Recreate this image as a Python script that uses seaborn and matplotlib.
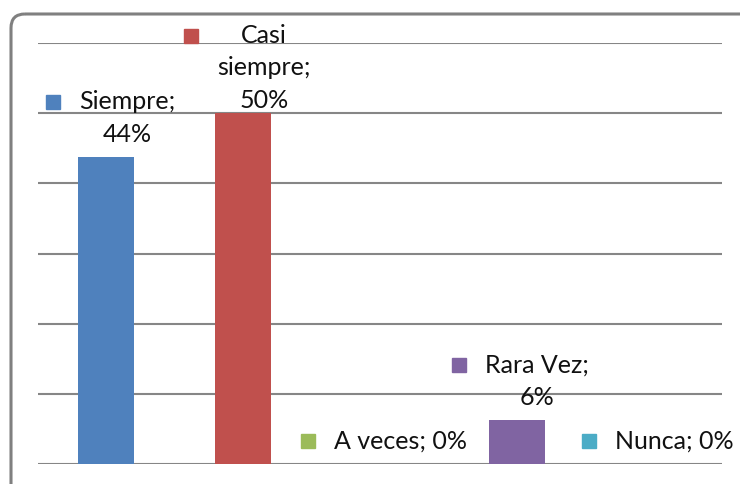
import matplotlib
matplotlib.use('Agg')
import matplotlib.pyplot as plt
from matplotlib.patches import FancyBboxPatch
import pandas as pd
import seaborn as sns

# Datos del gráfico (proporciones; las etiquetas muestran el valor redondeado)
categorias = ['Siempre', 'Casi siempre', 'A veces', 'Rara Vez', 'Nunca']
valores = [0.4375, 0.50, 0.00, 0.0625, 0.00]
etiquetas = ['Siempre;\n44%', 'Casi\nsiempre;\n50%', 'A veces; 0%',
             'Rara Vez;\n6%', 'Nunca; 0%']
colores = ['#4F81BD', '#C0504D', '#9BBB59', '#8064A2', '#4BACC6']

sns.set_theme(style='white')
plt.rcParams['font.family'] = ['Lato', 'DejaVu Sans']

DPI = 100
W, H = 740, 485
fig = plt.figure(figsize=(W / DPI, H / DPI), dpi=DPI)

# capa de fondo en píxeles para el marco redondeado
R = 14
bg = fig.add_axes([0, 0, 1, 1])
bg.set_xlim(0, W); bg.set_ylim(H, 0); bg.axis('off')
bg.add_patch(FancyBboxPatch((11, 15), 741 - 11 + R, 489 - 15 + R,
                            boxstyle=f'round,pad=0,rounding_size={R}',
                            fill=False, edgecolor='#808080', lw=2.2,
                            clip_on=True))

ax = fig.add_axes([38 / W, 1 - 465 / H, (722 - 38) / W, (465 - 44) / H])
ax.patch.set_alpha(0)

df = pd.DataFrame({'cat': categorias, 'val': valores})
sns.barplot(data=df, x='cat', y='val', hue='cat', palette=colores,
            legend=False, width=0.41, ax=ax, saturation=1, linewidth=0)

ax.set_xlim(-0.5, len(categorias) - 0.5)
ax.set_ylim(0, 0.6)
ax.set_yticks([0.0, 0.1, 0.2, 0.3, 0.4, 0.5, 0.6])
ax.grid(True, axis='y', color='#868686', lw=1.5)
ax.set_axisbelow(True)
ax.tick_params(left=False, bottom=False, labelleft=False, labelbottom=False)
ax.set_xlabel(''); ax.set_ylabel('')
for s in ax.spines.values():
    s.set_visible(False)

FS = 18
SQ = 14      # lado del cuadrado de leyenda, px
GAP = 19     # separación cuadrado-texto, px
textos = []
for i, (v, lab) in enumerate(zip(valores, etiquetas)):
    t = ax.annotate(lab, xy=(i, v), xytext=(((SQ + GAP) / 2 + 4) * 72 / DPI, 9),
                    textcoords='offset points', ha='center', va='bottom',
                    multialignment='center', fontsize=FS, color='#111111',
                    linespacing=1.5, annotation_clip=False)
    textos.append(t)

fig.canvas.draw()
renderer = fig.canvas.get_renderer()
for t, c in zip(textos, colores):
    bb = t.get_window_extent(renderer)
    tope = H - 24
    if bb.y1 > tope:
        ox, oy = t.xyann
        t.xyann = (ox, oy - (bb.y1 - tope) * 72 / DPI)
        bb = t.get_window_extent(renderer)
    xd, yd = ax.transData.inverted().transform(
        (bb.x0 - GAP - SQ / 2, bb.y1 - FS * DPI / 72 * 0.5))
    ax.plot(xd, yd, marker='s', ms=SQ * 72 / DPI, color=c, mec=c,
            clip_on=False, ls='none')

fig.savefig('out.png', dpi=DPI, bbox_inches=None)
